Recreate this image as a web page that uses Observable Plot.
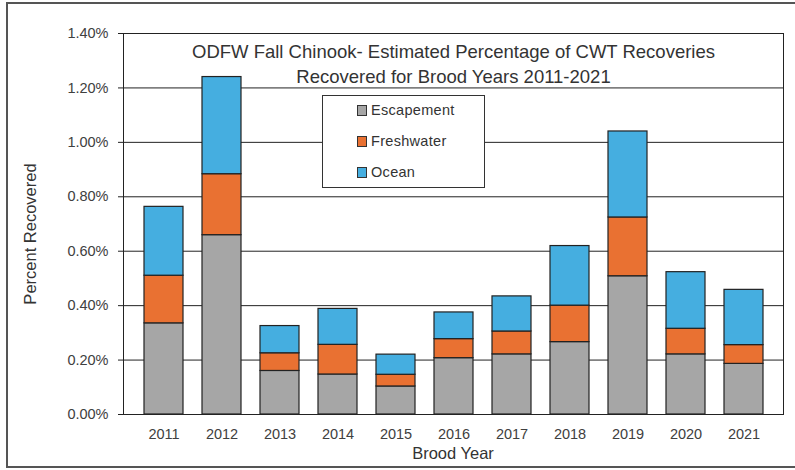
<!DOCTYPE html>
<html>
<head>
<meta charset="utf-8">
<script src="https://cdn.jsdelivr.net/npm/d3@7"></script>
<script src="https://cdn.jsdelivr.net/npm/@observablehq/plot@0.6"></script>
<style>
  html, body { margin: 0; padding: 0; background: #fff; }
  #wrap { position: relative; width: 795px; height: 470px; overflow: hidden; font-family: "Liberation Sans", Arial, sans-serif; }
  #outer { position: absolute; left: 6px; top: 2px; width: 800px; height: 466px; box-sizing: border-box;
           border-top: 2px solid #555; border-left: 2px solid #555; border-bottom: 2px solid #555; pointer-events: none; }
  #legend { position: absolute; left: 322px; top: 95px; width: 163px; height: 93px; box-sizing: border-box;
            border: 1.5px solid #333; background: #fff; }
  .item { position: absolute; left: 34px; height: 16px; display: flex; align-items: center; font-size: 14.5px; color: #333; letter-spacing: 0.3px; }
  .sw { width: 8px; height: 9px; border: 1px solid #333; margin-right: 4px; }
</style>
</head>
<body>
<div id="wrap">
  <div id="chart"></div>
  <div id="legend"></div>
  <div id="outer"></div>
</div>
<script>
const years = ["2011","2012","2013","2014","2015","2016","2017","2018","2019","2020","2021"];
const seriesNames = ["Escapement","Freshwater","Ocean"];
const seriesColors = ["#a6a6a6","#e97132","#45aee0"];
const escapement = [0.335,0.659,0.160,0.147,0.103,0.207,0.221,0.266,0.508,0.221,0.186];
const freshwater = [0.175,0.224,0.065,0.109,0.043,0.070,0.084,0.134,0.216,0.094,0.069];
const ocean      = [0.253,0.357,0.100,0.132,0.074,0.098,0.129,0.219,0.316,0.208,0.203];
const yTicks = [0,0.2,0.4,0.6,0.8,1.0,1.2,1.4];
const titleText = "ODFW Fall Chinook- Estimated Percentage of CWT Recoveries\nRecovered for Brood Years 2011-2021";
const xLabel = "Brood Year";
const yLabel = "Percent Recovered";

const seriesValues = [escapement, freshwater, ocean];
const data = [];
seriesNames.forEach((s, i) => years.forEach((y, j) => data.push({year: y, series: s, value: seriesValues[i][j]})));

const chart = Plot.plot({
  width: 795, height: 470,
  marginLeft: 123, marginRight: 12, marginTop: 33, marginBottom: 56,
  style: {fontFamily: "'Liberation Sans', Arial, sans-serif", background: "transparent"},
  x: {domain: years, padding: 0.33, label: null},
  y: {domain: [0, 1.4], label: null},
  color: {domain: seriesNames, range: seriesColors},
  marks: [
    Plot.gridY(yTicks, {stroke: "#222", strokeOpacity: 1, strokeWidth: 1}),
    Plot.barY(data, {x: "year", y: "value", fill: "series", stroke: "#222", strokeWidth: 1.2}),
    Plot.frame({stroke: "#222", strokeWidth: 1}),
    Plot.axisY(yTicks, {tickFormat: d => d.toFixed(2) + "%", tickSize: 5, tickPadding: 10, fontSize: 14.5, color: "#404040", stroke: "#222", label: null}),
    Plot.axisX({tickSize: 0, tickPadding: 14, fontSize: 14.5, color: "#404040", label: null}),
    Plot.text([titleText], {frameAnchor: "top", lineAnchor: "middle", dy: 29, lineHeight: 1.33, fontSize: 18.5, fill: "#333"})
  ]
});
document.getElementById("chart").appendChild(chart);

const svg = d3.select(chart);
svg.append("text").text(xLabel)
  .attr("x", 453).attr("y", 455).attr("text-anchor", "middle").attr("dominant-baseline", "middle")
  .attr("font-size", 16.5).attr("fill", "#333");
svg.append("text").text(yLabel)
  .attr("transform", "translate(32,234) rotate(-90)")
  .attr("text-anchor", "middle").attr("dominant-baseline", "middle")
  .attr("font-size", 16.5).attr("fill", "#333");

const legend = d3.select("#legend");
const rowCenters = [14, 45, 76];
seriesNames.forEach((s, i) => {
  const it = legend.append("div").attr("class", "item").style("top", (rowCenters[i] - 8) + "px");
  it.append("div").attr("class", "sw").style("background", seriesColors[i]);
  it.append("span").text(s);
});
</script>
</body>
</html>
